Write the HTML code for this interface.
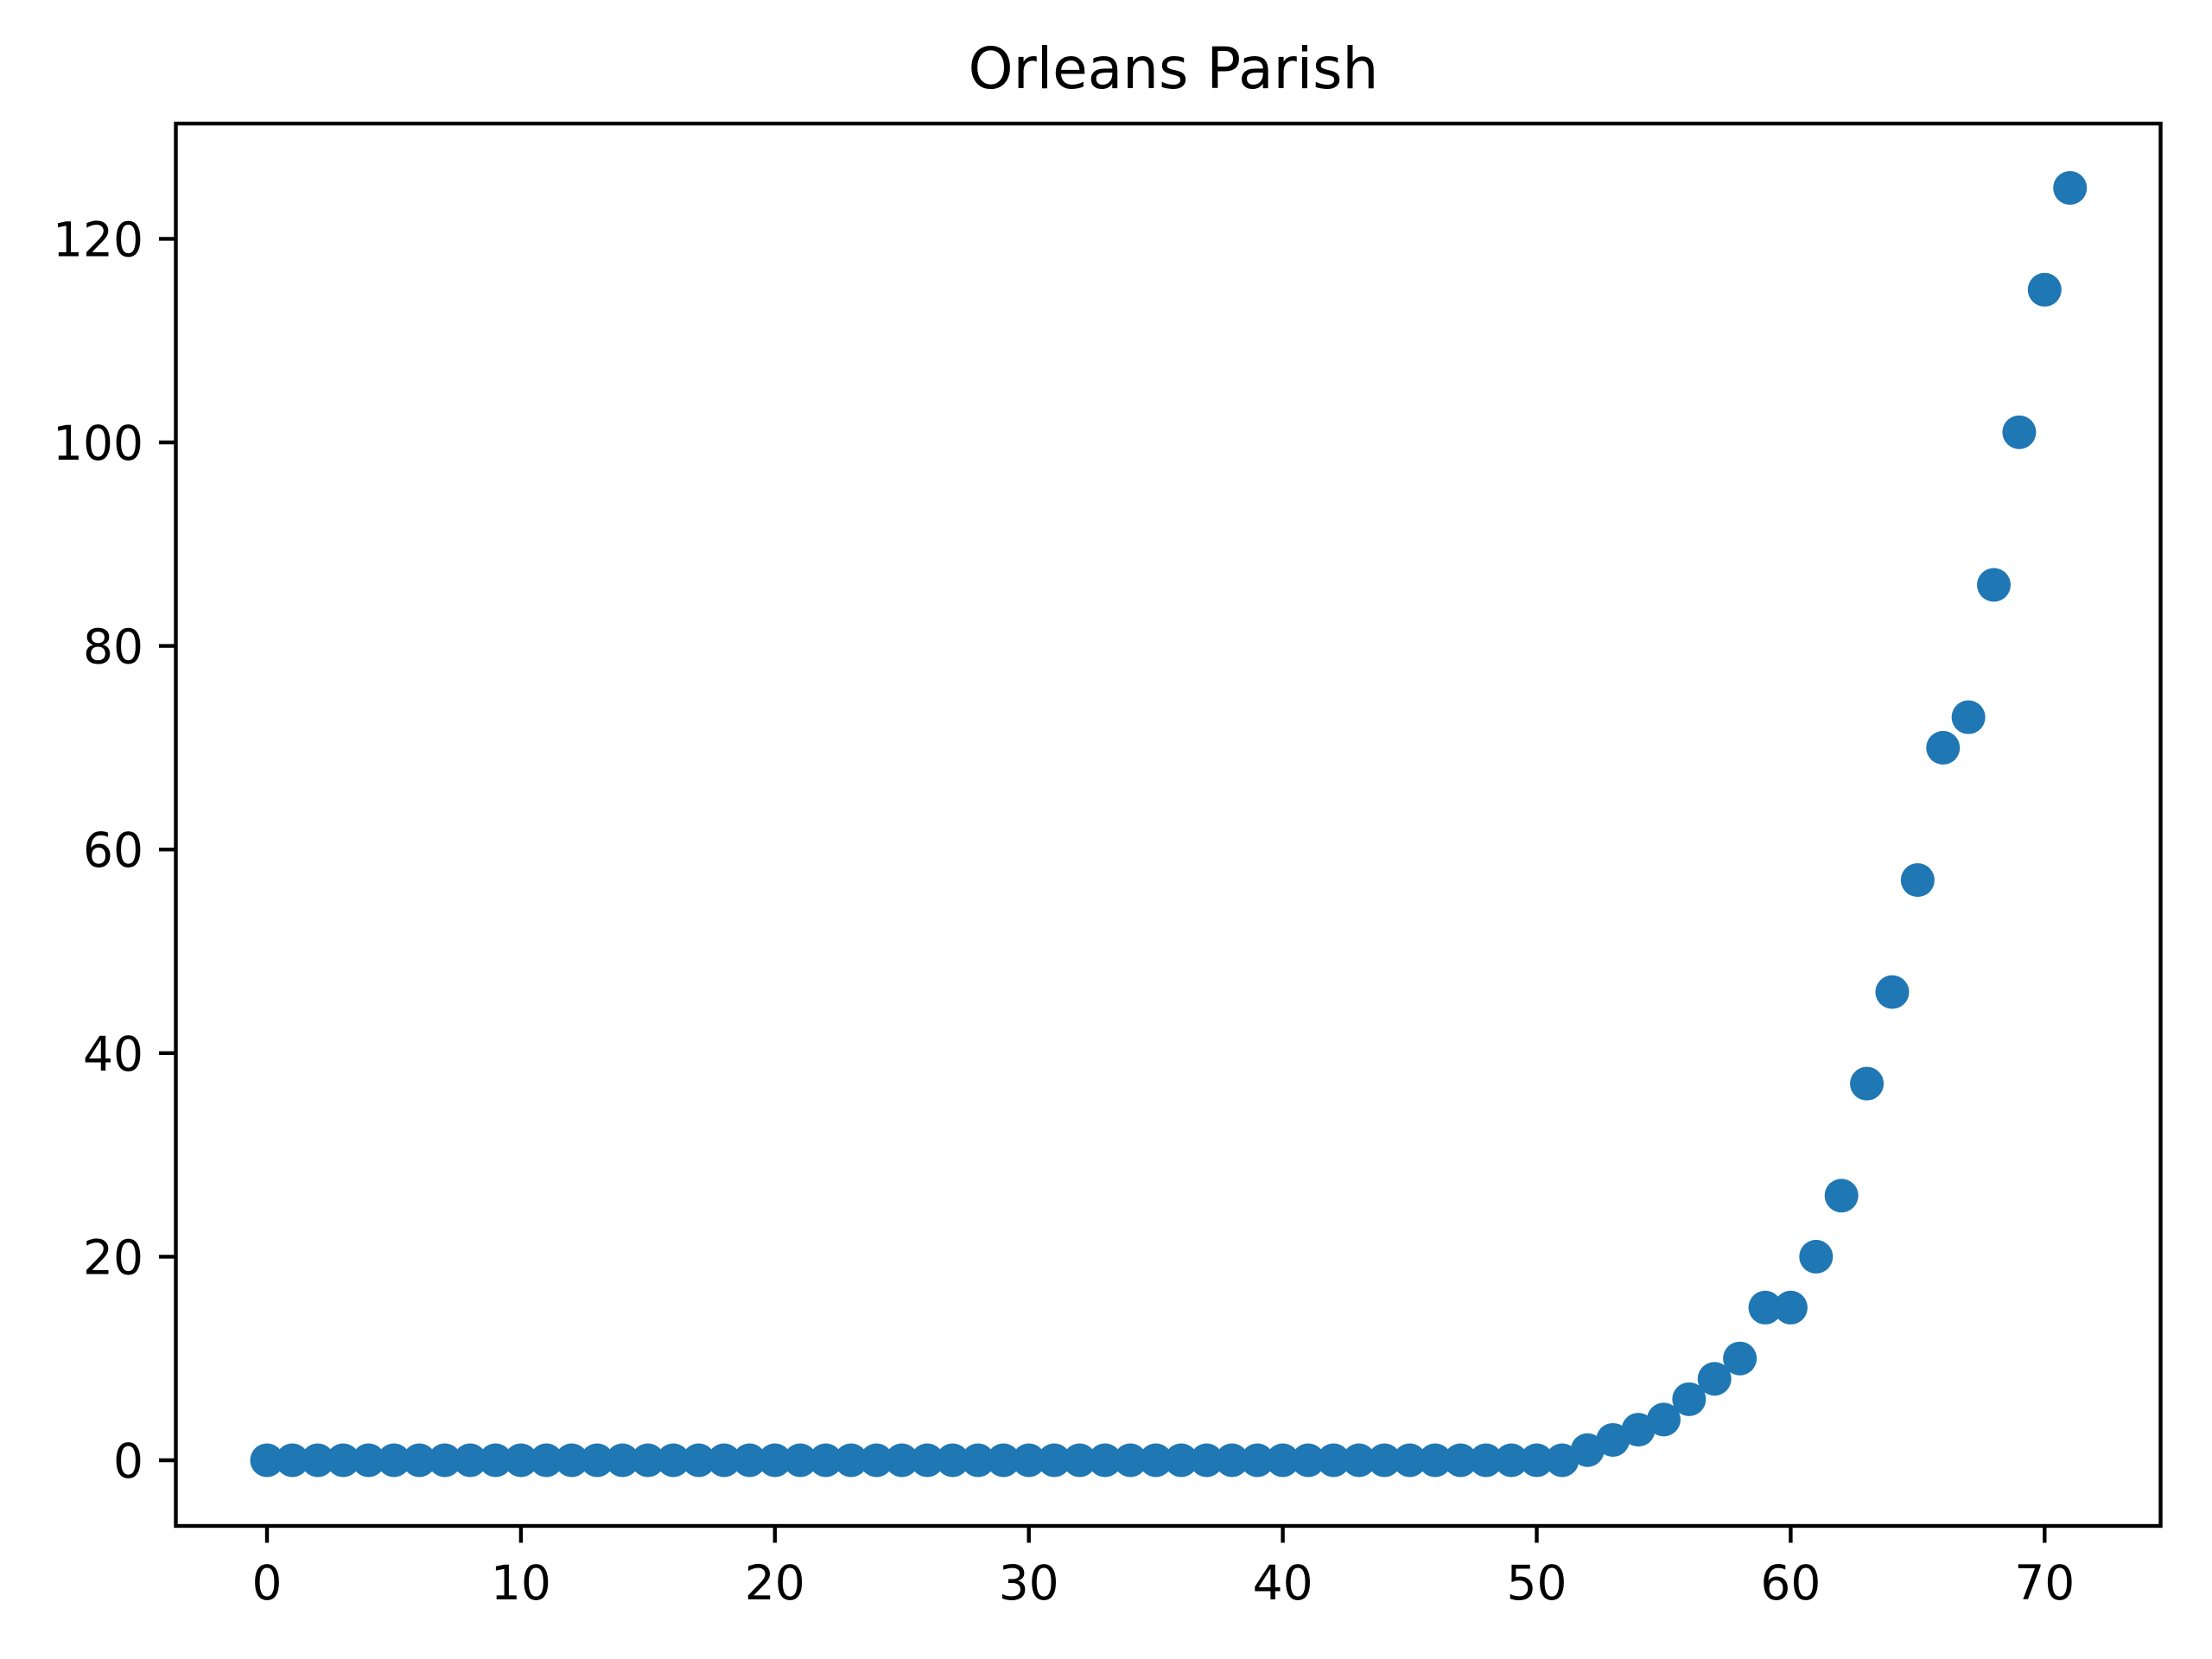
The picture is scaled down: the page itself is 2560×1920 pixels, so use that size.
<!DOCTYPE html>
<html><head><meta charset="utf-8"><style>body{margin:0;background:#fff}svg{display:block}</style></head>
<body>
<svg id="chart" width="2560" height="1920" xmlns="http://www.w3.org/2000/svg" font-family="'DejaVu Sans','Liberation Sans',sans-serif">
<rect width="2560" height="1920" fill="#fff"/>
<text x="1358" y="102" font-size="66" text-anchor="middle">Orleans Parish</text>
<g id="marks"></g>
<g id="axes"></g>
<rect x="203.5" y="143" width="2297" height="1623" fill="none" stroke="#000" stroke-width="4.4"/>
</svg>
<script>
const days = Array.from({length:72},(_,i)=>i);
const cases = [0,0,0,0,0,0,0,0,0,0,0,0,0,0,0,0,0,0,0,0,0,0,0,0,0,0,0,0,0,0,0,0,0,0,0,0,0,0,0,0,0,0,0,0,0,0,0,0,0,0,0,0,1,2,3,4,6,8,10,15,15,20,26,37,46,57,70,73,86,101,115,125];
const xTicks = [0,10,20,30,40,50,60,70];
const yTicks = [0,20,40,60,80,100,120];
const NS='http://www.w3.org/2000/svg';
function xs(v){return 309 + v*29.39;}
function ys(v){return 1690 - v*11.78;}
const marks=document.getElementById('marks'), axes=document.getElementById('axes');
days.forEach((d,i)=>{
  const c=document.createElementNS(NS,'circle');
  c.setAttribute('cx',xs(d));c.setAttribute('cy',ys(cases[i]));c.setAttribute('r',19.5);c.setAttribute('fill','#1f77b4');
  
  
  marks.appendChild(c);
});
xTicks.forEach(t=>{
  const l=document.createElementNS(NS,'line');
  l.setAttribute('x1',xs(t));l.setAttribute('x2',xs(t));l.setAttribute('y1',1766);l.setAttribute('y2',1785.5);l.setAttribute('stroke','#000');l.setAttribute('stroke-width',4.4);
  
  
  axes.appendChild(l);
  const tx=document.createElementNS(NS,'text');
  tx.setAttribute('x',xs(t));tx.setAttribute('y',1851);tx.setAttribute('font-size',55);tx.setAttribute('text-anchor','middle');
  tx.textContent=t;
  
  
  axes.appendChild(tx);
});
yTicks.forEach(t=>{
  const l=document.createElementNS(NS,'line');
  l.setAttribute('x1',184);l.setAttribute('x2',203.5);l.setAttribute('y1',ys(t));l.setAttribute('y2',ys(t));l.setAttribute('stroke','#000');l.setAttribute('stroke-width',4.4);
  
  
  axes.appendChild(l);
  const tx=document.createElementNS(NS,'text');
  tx.setAttribute('x',166);tx.setAttribute('y',ys(t)+20);tx.setAttribute('font-size',55);tx.setAttribute('text-anchor','end');
  tx.textContent=t;
  
  
  axes.appendChild(tx);
});
</script>
</body></html>
